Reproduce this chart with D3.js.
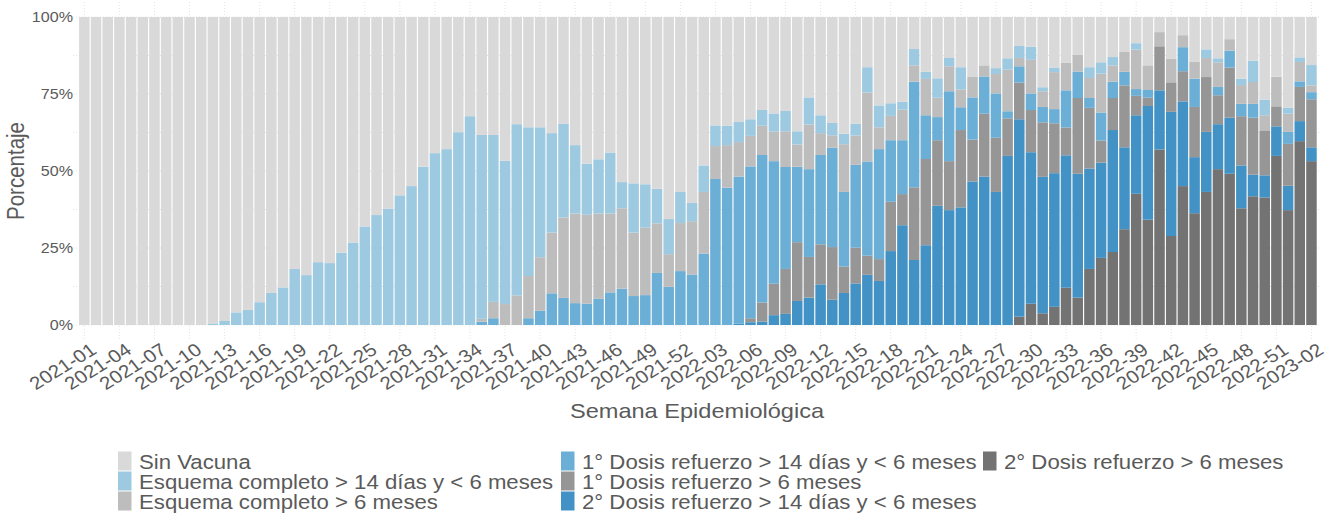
<!DOCTYPE html>
<meta charset="utf-8">
<style>
body { margin: 0; background: #fff; }
text { font-family: "Liberation Sans", Arial, sans-serif; fill: #5a5a5a; }
</style>
<svg width="1328" height="517"></svg>
<script src="https://d3js.org/d3.v7.min.js"></script>
<script>

// semanas epidemiologicas: 2021-01..2021-52, 2022-01..2022-52, 2023-01..2023-02
var weeks = [];
[[2021, 52], [2022, 52], [2023, 2]].forEach(function(y) {
  for (var w = 1; w <= y[1]; w++) weeks.push(y[0] + "-" + (w < 10 ? "0" : "") + w);
});

var seriesNames = [
  "Sin Vacuna",
  "Esquema completo > 14 días y < 6 meses",
  "Esquema completo > 6 meses",
  "1° Dosis refuerzo > 14 días y < 6 meses",
  "1° Dosis refuerzo > 6 meses",
  "2° Dosis refuerzo > 14 días y < 6 meses",
  "2° Dosis refuerzo > 6 meses"
];
var colors = ["#d9d9d9", "#9ecae1", "#bdbdbd", "#6baed6", "#969696", "#4292c6", "#737373"];

var sinVacuna = [100,100,100,100,100,100,100,100,100,100,100,99.5,98.7,95.9,95.1,92.6,89.6,87.8,81.8,83.8,
  79.6,79.9,76.5,73.2,68.0,64.3,62.2,57.9,54.9,48.6,44.2,42.9,37.4,32.2,38.3,38.3,46.7,34.8,35.8,35.8,
  37.7,34.6,41.6,47.6,46.2,44.0,53.6,54.0,54.3,55.8,65.6,56.8,60.4,48.2,35.2,35.3,34.1,33.2,30.2,31.3,
  30.5,37.1,26.1,31.9,34.4,37.9,34.7,16.3,28.7,28.0,27.5,10.4,17.8,19.9,13.3,16.3,19.3,15.7,16.6,13.4,
  9.4,9.7,22.8,16.4,14.9,12.3,16.3,14.7,13.0,11.2,8.5,15.7,4.9,13.5,5.9,14.6,10.5,13.4,7.2,20.0,
  14.2,26.8,19.4,29.5,13.1,15.6];
var esqCompleto14d = [0,0,0,0,0,0,0,0,0,0,0,0.5,1.3,4.1,4.9,7.4,10.4,12.2,18.2,16.2,
  20.4,20.1,23.5,26.8,32.0,35.7,37.8,42.1,45.1,51.4,55.8,57.1,62.6,67.8,59.7,54.2,46.5,55.6,48.3,42.2,
  32.3,30.5,22.2,16.6,17.6,19.8,8.5,16.0,14.1,11.2,11.4,10.1,5.9,8.6,6.7,6.3,6.5,5.4,5.1,5.9,
  6.6,4.3,8.8,5.8,4.0,3.4,3.8,8.2,7.1,4.1,2.6,5.3,2.3,6.3,2.7,7.2,0,0,1.9,3.7,
  3.9,4.2,1.3,1.5,0,0,3.5,3.7,2.7,0,2.1,0,0,0,0,0,2.8,1.3,0,2.1,
  6.9,5.1,0,1.9,1.5,6.6];
var esqCompleto6m = [0,0,0,0,0,0,0,0,0,0,0,0,0,0,0,0,0,0,0,0,
  0,0,0,0,0,0,0,0,0,0,0,0,0,0,0.9,5.3,6.8,9.6,13.7,17.4,
  19.7,26.1,29.1,28.9,27.7,25.6,26.1,20.6,21.9,16.1,10.6,15.6,17.3,20.0,10.7,13.8,11.2,9.9,9.5,9.6,
  11.6,7.2,14.5,7.1,4.0,15.5,9.5,22.4,7.1,7.9,9.9,5.3,11.8,6.3,8.1,5.8,6.8,3.6,6.3,13.5,
  2.7,10.9,5.1,12.0,8.9,5.4,6.5,12.6,5.3,6.6,12.8,8.0,4.6,7.7,3.9,5.4,6.2,8.0,3.7,6.1,
  7.1,4.9,9.6,5.9,6.3,2.2];
var refuerzo1_14d = [0,0,0,0,0,0,0,0,0,0,0,0,0,0,0,0,0,0,0,0,
  0,0,0,0,0,0,0,0,0,0,0,0,0,0,1.1,2.2,0,0,2.2,4.6,
  10.3,8.8,7.1,6.9,8.5,10.6,11.8,9.4,9.7,16.9,12.4,17.5,16.4,23.2,47.4,44.6,47.8,49.3,47.9,39.8,
  33.1,24.5,28.5,29.0,32.3,24.2,26.9,30.6,35.7,20.0,17.5,34.3,14.2,7.5,22.7,7.4,13.7,12.1,14.4,2.3,
  5.3,5.4,5.0,4.6,12.1,8.6,3.2,9.1,5.3,4.4,2.2,2.5,0,0,7.8,9.2,0,2.7,5.5,4.0,
  4.5,0,0,3.9,1.8,2.3];
var refuerzo1_6m = [0,0,0,0,0,0,0,0,0,0,0,0,0,0,0,0,0,0,0,0,
  0,0,0,0,0,0,0,0,0,0,0,0,0,0,0,0,0,0,0,0,
  0,0,0,0,0,0,0,0,0,0,0,0,0,0,0,0,0,1.3,6.2,10.2,
  14.6,19.1,13.2,13.0,17.1,8.6,11.6,6.2,7.1,16.0,10.1,23.6,28.0,21.3,15.9,25.1,13.6,20.4,17.6,12.2,
  11.9,13.7,17.7,16.2,9.0,24.6,19.7,7.2,10.4,20.1,6.3,2.7,14.3,9.6,9.8,16.3,17.8,9.4,16.3,16.0,
  18.5,14.6,6.5,13.6,11.1,15.6];
var refuerzo2_14d = [0,0,0,0,0,0,0,0,0,0,0,0,0,0,0,0,0,0,0,0,
  0,0,0,0,0,0,0,0,0,0,0,0,0,0,0,0,0,0,0,0,
  0,0,0,0,0,0,0,0,0,0,0,0,0,0,0,0,0.4,0.9,1.1,3.2,
  3.6,7.8,8.9,13.2,8.2,10.4,13.5,16.3,14.3,24.0,32.4,21.1,25.9,38.7,37.3,38.2,46.6,48.2,43.2,54.9,
  64.1,49.2,44.3,43.4,43.0,40.2,32.6,30.9,39.6,26.6,25.5,36.9,19.2,40.3,27.5,18.2,19.5,14.6,18.2,13.9,
  7.0,7.2,9.6,7.9,6.5,4.5];
var refuerzo2_6m = [0,0,0,0,0,0,0,0,0,0,0,0,0,0,0,0,0,0,0,0,
  0,0,0,0,0,0,0,0,0,0,0,0,0,0,0,0,0,0,0,0,
  0,0,0,0,0,0,0,0,0,0,0,0,0,0,0,0,0,0,0,0,
  0,0,0,0,0,0,0,0,0,0,0,0,0,0,0,0,0,0,0,0,
  2.7,6.9,3.8,5.9,12.1,8.9,18.2,21.8,23.7,31.1,42.6,34.2,57.0,28.9,45.1,36.3,43.2,50.6,49.1,37.9,
  41.8,41.4,54.9,37.3,59.7,53.2];

var yTicks = [0, 25, 50, 75, 100];
var yTickLabels = ["0%", "25%", "50%", "75%", "100%"];

var seriesValues = [sinVacuna, esqCompleto14d, esqCompleto6m, refuerzo1_14d, refuerzo1_6m, refuerzo2_14d, refuerzo2_6m];

var rows = weeks.map(function(w, i) {
  var r = {week: w};
  seriesNames.forEach(function(s, j) { r[s] = seriesValues[j][i]; });
  return r;
});

var svg = d3.select("svg"),
    stretch = 1.15;

var x = d3.scaleBand().domain(weeks).range([78.5, 1317.3]).paddingInner(0.1).paddingOuter(0.05),
    y = d3.scaleLinear().domain([0, 100]).range([325, 17]);

// stretched text, like the reference
function sText(g, tx, ty, rot, str, size) {
  return g.append("text")
      .attr("transform", "translate(" + tx + "," + ty + ") scale(" + stretch + ",1)" + (rot ? " rotate(" + rot + ")" : ""))
      .style("font-size", size + "px")
      .text(str);
}

// grid
var grid = svg.append("g");
d3.range(0, 100.1, 12.5).forEach(function(v) {
  grid.append("line")
      .attr("x1", 73).attr("x2", 1321)
      .attr("y1", y(v)).attr("y2", y(v))
      .attr("stroke", "#e3e3e3").attr("stroke-dasharray", "1,2");
});
var tickWeeks = weeks.filter(function(d, i) { return i % 3 === 0; });
tickWeeks.forEach(function(w) {
  grid.append("line")
      .attr("x1", x(w) + x.bandwidth() / 2).attr("x2", x(w) + x.bandwidth() / 2)
      .attr("y1", 2).attr("y2", 340)
      .attr("stroke", "#e3e3e3").attr("stroke-dasharray", "1,2");
});

// bars
var stackOrder = seriesNames.slice().reverse();
var stacked = d3.stack().keys(stackOrder)(rows);

svg.append("g").selectAll("g")
  .data(stacked)
  .enter().append("g")
    .attr("fill", function(d) { return colors[seriesNames.indexOf(d.key)]; })
  .selectAll("rect")
  .data(function(d) { return d; })
  .enter().append("rect")
    .attr("x", function(d) { return x(d.data.week); })
    .attr("y", function(d) { return y(d[1]); })
    .attr("width", x.bandwidth())
    .attr("height", function(d) { return Math.max(0, y(d[0]) - y(d[1])); });

// y axis labels
yTicks.forEach(function(v, i) {
  sText(svg, 73, y(v), 0, yTickLabels[i], 14)
      .attr("text-anchor", "end")
      .attr("dy", "0.36em");
});

// x axis labels
tickWeeks.forEach(function(w) {
  sText(svg, x(w) + x.bandwidth() / 2 + 5, 342, -35, w, 18)
      .attr("text-anchor", "end")
      .attr("dy", "0.72em");
});

// titles
sText(svg, 24, 171, -90, "Porcentaje", 20.5).attr("text-anchor", "middle");
sText(svg, 697, 418, 0, "Semana Epidemiológica", 20.5).attr("text-anchor", "middle");

// legend
var legendPos = [
  [118, 451], [118, 471], [118, 491],
  [561, 451], [561, 471], [561, 491],
  [983, 451]
];
var legend = svg.append("g");
seriesNames.forEach(function(s, i) {
  var p = legendPos[i];
  legend.append("rect")
      .attr("x", p[0]).attr("y", p[1] + 0.5)
      .attr("width", 13.5).attr("height", 19)
      .attr("fill", colors[i]);
  sText(legend, p[0] + 21, p[1] + 11, 0, s, 19.3).attr("dy", "0.36em");
});

</script>
